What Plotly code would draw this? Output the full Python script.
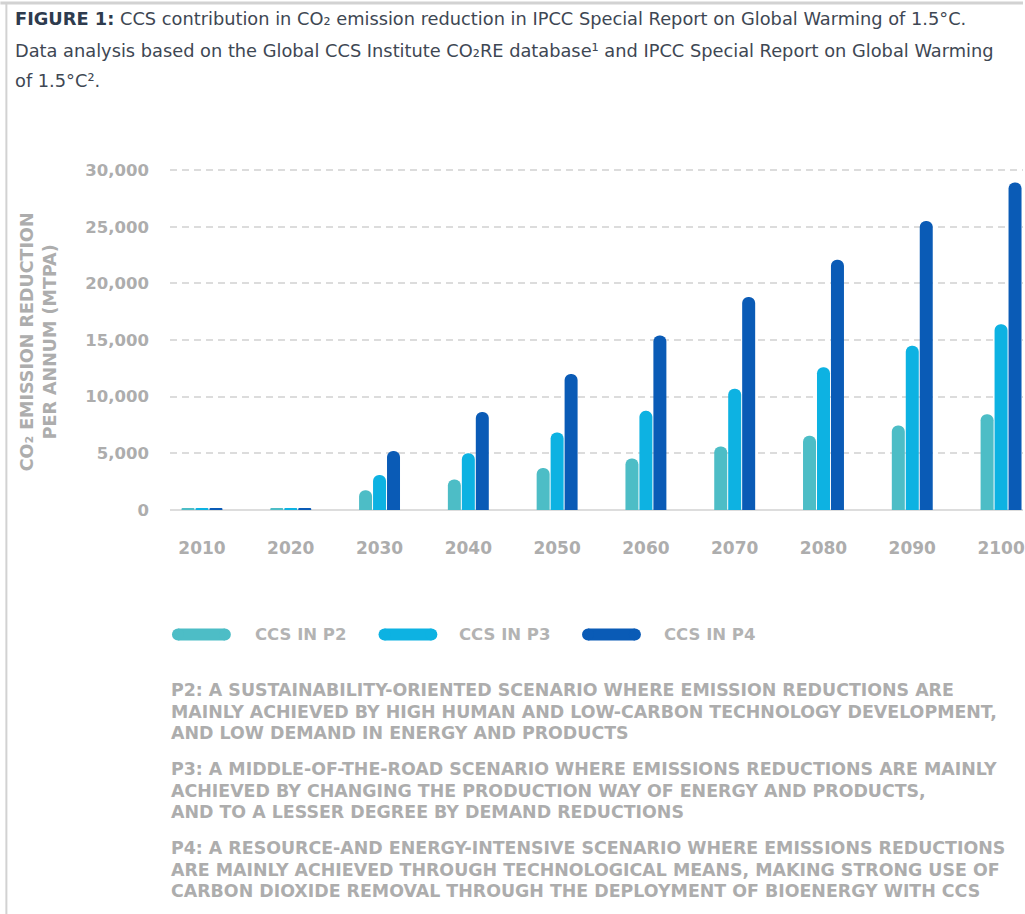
import plotly.graph_objects as go

# ---------------- data ----------------
years = ["2010", "2020", "2030", "2040", "2050", "2060", "2070", "2080", "2090", "2100"]
ccs_p2 = [150, 150, 1750, 2700, 3700, 4550, 5600, 6550, 7450, 8450]
ccs_p3 = [150, 150, 3100, 5000, 6850, 8750, 10700, 12600, 14500, 16400]
ccs_p4 = [150, 150, 5200, 8650, 12000, 15400, 18800, 22100, 25500, 28900]
series_names = ["CCS IN P2", "CCS IN P3", "CCS IN P4"]
y_ticks = [0, 5000, 10000, 15000, 20000, 25000, 30000]
y_tick_labels = ["0", "5,000", "10,000", "15,000", "20,000", "25,000", "30,000"]

title_bold = "FIGURE 1:"
title_line1 = " CCS contribution in CO₂ emission reduction in IPCC Special Report on Global Warming of 1.5°C."
title_line2 = "Data analysis based on the Global CCS Institute CO₂RE database¹ and IPCC Special Report on Global Warming"
title_line3 = "of 1.5°C²."
y_title = "CO₂ EMISSION REDUCTION<br>PER ANNUM (MTPA)"
notes = [
    ["P2: A SUSTAINABILITY-ORIENTED SCENARIO WHERE EMISSION REDUCTIONS ARE",
     "MAINLY ACHIEVED BY HIGH HUMAN AND LOW-CARBON TECHNOLOGY DEVELOPMENT,",
     "AND LOW DEMAND IN ENERGY AND PRODUCTS"],
    ["P3: A MIDDLE-OF-THE-ROAD SCENARIO WHERE EMISSIONS REDUCTIONS ARE MAINLY",
     "ACHIEVED BY CHANGING THE PRODUCTION WAY OF ENERGY AND PRODUCTS,",
     "AND TO A LESSER DEGREE BY DEMAND REDUCTIONS"],
    ["P4: A RESOURCE-AND ENERGY-INTENSIVE SCENARIO WHERE EMISSIONS REDUCTIONS",
     "ARE MAINLY ACHIEVED THROUGH TECHNOLOGICAL MEANS, MAKING STRONG USE OF",
     "CARBON DIOXIDE REMOVAL THROUGH THE DEPLOYMENT OF BIOENERGY WITH CCS"],
]

colors = ["#4DBDC6", "#0DB2E2", "#0A5BB6"]
GRAY = "#ADADAD"
FONT = "DejaVu Sans"

W, H = 1025, 914
L, R, T, B = 170, 0, 169, 404
Y_MAX = 30100


def px(x):
    return (x - L) / (W - L - R)


def py(y):
    return (H - B - y) / (H - T - B)


fig = go.Figure()
for name, vals, col in zip(series_names, [ccs_p2, ccs_p3, ccs_p4], colors):
    fig.add_trace(go.Bar(x=years, y=vals, name=name,
                         marker=dict(color=col, cornerradius=6, line=dict(width=0)),
                         showlegend=False))

shapes = []
annotations = []

# frame of the page
shapes.append(dict(type="line", xref="paper", yref="paper", x0=px(0), x1=px(W), y0=py(3), y1=py(3),
                   line=dict(color="#D2D2D2", width=3)))
shapes.append(dict(type="line", xref="paper", yref="paper", x0=px(6), x1=px(6), y0=py(3), y1=py(H),
                   line=dict(color="#D2D2D2", width=2)))

# title
title_color = "#3E4753"
TFONT = dict(family=FONT, size=17.8, color=title_color)
annotations.append(dict(xref="paper", yref="paper", x=px(13), y=py(19), xanchor="left", yanchor="middle",
                        text=f"<b style='color:#2E3B4E'>{title_bold}</b>{title_line1}", showarrow=False,
                        font=TFONT))
annotations.append(dict(xref="paper", yref="paper", x=px(13), y=py(50), xanchor="left", yanchor="middle",
                        text=title_line2, showarrow=False, font=TFONT))
annotations.append(dict(xref="paper", yref="paper", x=px(13), y=py(80), xanchor="left", yanchor="middle",
                        text=title_line3, showarrow=False, font=TFONT))

# y axis title
annotations.append(dict(xref="paper", yref="paper", x=px(38), y=py(342), xanchor="center", yanchor="middle",
                        text=y_title, textangle=-90, showarrow=False,
                        font=dict(family=FONT, size=17.5, color=GRAY, weight="bold")))

# custom legend (pill swatches)
legend_items = [(172, 231, 253), (379, 438, 458), (583, 642, 663)]
yc, hh = 634.5, 6
for (x0, x1, xt), name, col in zip(legend_items, series_names, colors):
    shapes.append(dict(type="rect", xref="paper", yref="paper", x0=px(x0 + hh), x1=px(x1 - hh),
                       y0=py(yc + hh), y1=py(yc - hh), fillcolor=col, line=dict(width=0)))
    for cx in (x0 + hh, x1 - hh):
        shapes.append(dict(type="circle", xref="paper", yref="paper", x0=px(cx - hh), x1=px(cx + hh),
                           y0=py(yc + hh), y1=py(yc - hh), fillcolor=col, line=dict(width=0)))
    annotations.append(dict(xref="paper", yref="paper", x=px(xt), y=py(yc), xanchor="left", yanchor="middle",
                            text=name, showarrow=False,
                            font=dict(family=FONT, size=16.5, color="#B3B3B3", weight="bold")))

# scenario notes
line_ys = [[690, 711.5, 733], [769, 790.5, 812], [848, 869.5, 891]]
for block, ys in zip(notes, line_ys):
    for txt, yy in zip(block, ys):
        annotations.append(dict(xref="paper", yref="paper", x=px(169), y=py(yy), xanchor="left",
                                yanchor="middle", text=txt, showarrow=False,
                                font=dict(family=FONT, size=17.4, color=GRAY, weight="bold")))

fig.update_layout(
    width=W, height=H,
    margin=dict(l=L, r=R, t=T, b=B, pad=0),
    paper_bgcolor="white", plot_bgcolor="white",
    barmode="group", bargap=0.528, bargroupgap=0.07,
    showlegend=False,
    shapes=shapes, annotations=annotations,
    xaxis=dict(type="category", range=[-0.36, 9.247], showgrid=False, zeroline=False, showline=False,
               ticks="", ticklabelstandoff=26,
               tickfont=dict(family=FONT, size=17, color=GRAY, weight="bold")),
    yaxis=dict(range=[0, Y_MAX], tickvals=y_ticks, ticktext=y_tick_labels, showgrid=True,
               gridcolor="#DCDCDC", gridwidth=1.5, griddash="7px,5px", zeroline=True,
               zerolinecolor="#DDDDDD", zerolinewidth=1.5, showline=False, ticks="",
               ticklabelstandoff=20,
               tickfont=dict(family=FONT, size=16.5, color=GRAY, weight="bold")),
)

fig.write_html("out.html", config={"displayModeBar": False},
               post_script="document.body.style.margin='0';document.body.style.overflow='hidden';")
